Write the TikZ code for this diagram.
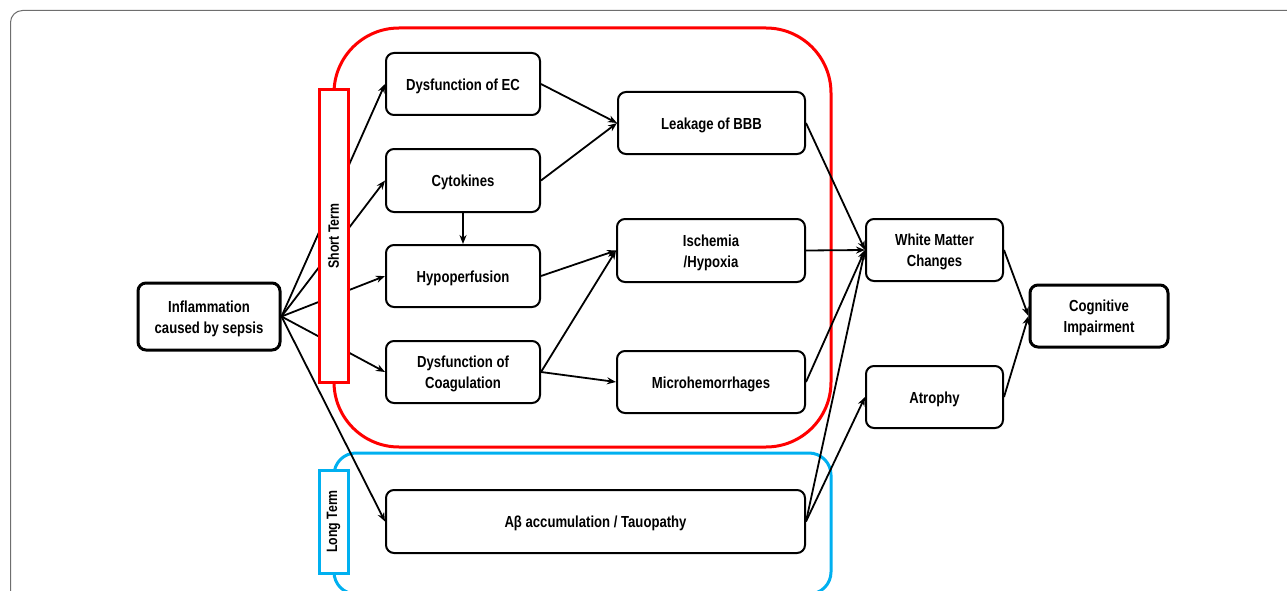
\documentclass[tikz,border=0pt]{standalone}
\usepackage{fontspec}
\setmainfont{Liberation Sans}[FakeStretch=0.82]
\usetikzlibrary{arrows.meta}
\definecolor{cyanb}{RGB}{0,176,240}
\definecolor{framegray}{RGB}{110,110,110}
\newcommand{\boxtext}[1]{\raisebox{-2pt}[\height][\depth]{\begin{tabular}{@{}c@{}}#1\end{tabular}}}
\begin{document}
\begin{tikzpicture}[x=1pt,y=-1pt,
  box/.style={draw=black, line width=2pt, rounded corners=8pt, fill=white,
    inner sep=0pt, font=\fontsize{16}{21}\selectfont\bfseries},
  mainbox/.style={box, line width=3pt},
  arr/.style={-{Stealth[length=9pt,width=7pt]}, line width=1.8pt},
  tagbox/.style={line width=3pt, fill=white, inner sep=0pt, minimum width=29pt,
    font=\fontsize{15}{18}\selectfont\bfseries}]
\useasboundingbox (0,0) rectangle (1287,591);
\clip (0,0) rectangle (1287,591);
% outer frame
\draw[framegray, line width=1pt, rounded corners=12pt] (10.5,640) -- (10.5,10.5) -- (1320,10.5);
% group outlines
\draw[red, line width=3pt, rounded corners=65pt] (334,28) rectangle (831,447);
\draw[cyanb, line width=3pt, rounded corners=22pt] (334,453) rectangle (831,594);
% nodes
\node[mainbox, minimum width=142pt, minimum height=67pt] (infl) at (209,316.5) {\boxtext{Inflammation\\caused by sepsis}};
\node[box, minimum width=154pt, minimum height=62pt] (ec) at (463,84) {\boxtext{Dysfunction of EC}};
\node[box, minimum width=154pt, minimum height=63pt] (cyt) at (463,180.5) {\boxtext{Cytokines}};
\node[box, minimum width=154pt, minimum height=62pt] (hyp) at (463,276) {\boxtext{Hypoperfusion}};
\node[box, minimum width=154pt, minimum height=62pt] (coag) at (463,372) {\boxtext{Dysfunction of\\Coagulation}};
\node[box, minimum width=187pt, minimum height=62pt] (bbb) at (711.5,123) {\boxtext{Leakage of BBB}};
\node[box, minimum width=188pt, minimum height=63pt] (isch) at (711,250.5) {\boxtext{Ischemia\\/Hypoxia}};
\node[box, minimum width=188pt, minimum height=62pt] (micro) at (711,382) {\boxtext{Microhemorrhages}};
\node[box, minimum width=419pt, minimum height=63pt] (abeta) at (595.5,521.5) {\boxtext{Aβ accumulation / Tauopathy}};
\node[box, minimum width=137pt, minimum height=62pt] (wm) at (934.5,250) {\boxtext{White Matter\\Changes}};
\node[box, minimum width=137pt, minimum height=62pt] (atr) at (934.5,397) {\boxtext{Atrophy}};
\node[mainbox, minimum width=138pt, minimum height=62pt] (cog) at (1099,316) {\boxtext{Cognitive\\Impairment}};
% arrows
\draw[arr] (infl.east) -- (ec.west);
\draw[arr] (infl.east) -- (cyt.west);
\draw[arr] (infl.east) -- (hyp.west);
\draw[arr] (infl.east) -- (coag.west);
\draw[arr] (infl.east) -- (abeta.west);
\draw[arr] (ec.east) -- (bbb.west);
\draw[arr] (cyt.east) -- (bbb.west);
\draw[arr] (cyt.south) -- (hyp.north);
\draw[arr] (hyp.east) -- (isch.west);
\draw[arr] (coag.east) -- (isch.west);
\draw[arr] (coag.east) -- (micro.west);
\draw[arr] (bbb.east) -- (wm.west);
\draw[arr] (isch.east) -- (wm.west);
\draw[arr] (micro.east) -- (wm.west);
\draw[arr] (abeta.east) -- (wm.west);
\draw[arr] (abeta.east) -- (atr.west);
\draw[arr] (wm.east) -- (cog.west);
\draw[arr] (atr.east) -- (cog.west);
% term tags
\node[tagbox, draw=red, minimum height=292pt] (st) at (333.5,236) {\rotatebox{90}{Short Term}};
\node[tagbox, draw=cyanb, minimum height=103pt] (lt) at (333.5,521.5) {\rotatebox{90}{Long Term}};
\end{tikzpicture}
\end{document}
